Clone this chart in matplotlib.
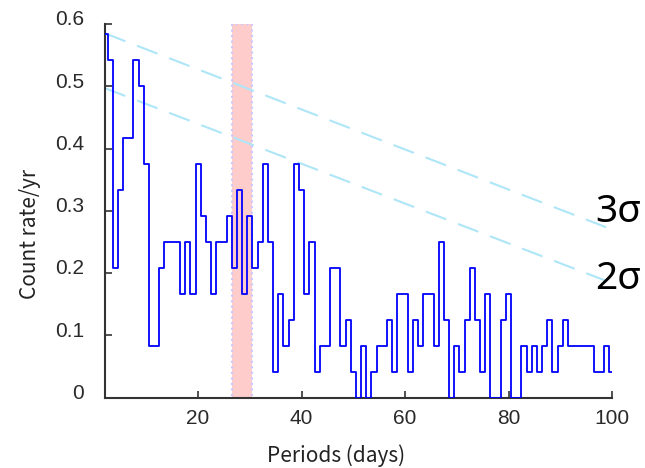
import numpy as np
import matplotlib
matplotlib.use("Agg")
import matplotlib.pyplot as plt
import matplotlib.transforms as mtransforms

# periodogram bins (days) and counts in units of 1/24 per yr
days = list(range(2, 101))
counts = [14, 13, 5, 8, 10, 10, 13, 12, 9, 2, 2, 5, 6, 6, 6, 4, 6, 4, 9, 7, 6, 4,
          6, 6, 7, 5, 8, 4, 7, 5, 6, 9, 6, 1, 4, 2, 3, 9, 8, 4, 6, 1, 2, 2, 5,
          5, 2, 3, 1, 0, 2, 0, 1, 2, 2, 3, 1, 4, 4, 1, 3, 2, 4, 4, 2, 6, 3, 0, 2, 1, 3, 5,
          3, 1, 4, 0, 0, 3, 4, 0, 0, 2, 1, 2, 1, 2, 3, 1, 2, 3, 2, 2, 2, 2, 2, 1, 1, 2, 1]
rate = np.array(counts) / 24.0

# significance levels
sigma_x = [2, 100]
sigma3 = [0.585, 0.270]
sigma2 = [0.497, 0.184]
sigma_labels = ["3σ", "2σ"]

band = (26.5, 30.5)
yticks = [0, 0.1, 0.2, 0.3, 0.4, 0.5, 0.6]
ytick_labels = ["0", "0.1", "0.2", "0.3", "0.4", "0.5", "0.6"]
xticks = [20, 40, 60, 80, 100]

plt.rcParams['font.family'] = ['Noto Sans CJK JP', 'DejaVu Sans']

fig = plt.figure(figsize=(6.45, 4.68), dpi=100)
ax = fig.add_axes([0.1628, 0.1502, 0.786, 0.7985])

ax.axvspan(band[0], band[1], facecolor='#ffcccc', edgecolor='#c8c8ff',
           linestyle=':', linewidth=1.5, zorder=1)
ax.plot(sigma_x, sigma3, color='#aee6f8', lw=1.5, dashes=(10.5, 6), zorder=2)
ax.plot(sigma_x, sigma2, color='#aee6f8', lw=1.5, dashes=(10.5, 6), zorder=2)
ax.step(days, rate, where='mid', color='#0000ff', lw=1.3, zorder=3)

ax.text(96.7, 0.298, sigma_labels[0], fontsize=28, family=['Noto Sans', 'DejaVu Sans'],
        va='center', ha='left')
ax.text(96.7, 0.191, sigma_labels[1], fontsize=28, family=['Noto Sans', 'DejaVu Sans'],
        va='center', ha='left')

ax.set_xlim(2, 100)
ax.set_ylim(0, 0.6)
ax.set_xticks(xticks)
ax.set_yticks(yticks)
ax.set_yticklabels(ytick_labels)
ax.tick_params(direction='in', length=5, width=1.2, colors='#333333',
               labelcolor='#2a2a2a', labelsize=15)
ax.tick_params(axis='x', pad=8)
ax.tick_params(axis='y', pad=15)
for lab in ax.get_xticklabels() + ax.get_yticklabels():
    lab.set_family(['Liberation Sans Narrow', 'Liberation Sans'])
for s in ['top', 'right']:
    ax.spines[s].set_visible(False)
for s in ['left', 'bottom']:
    ax.spines[s].set_color('#333333')
    ax.spines[s].set_linewidth(1.5)

shift = mtransforms.ScaledTranslation(0, 4.5 / 72, fig.dpi_scale_trans)
for lab in ax.get_yticklabels():
    lab.set_transform(lab.get_transform() + shift)

fig.text(30 / 645, 1 - 234 / 468, "Count rate/yr", rotation=90,
         ha='center', va='center', fontsize=15, color='#222222')
fig.text(336 / 645, 1 - 456 / 468, "Periods (days)",
         ha='center', va='center', fontsize=15, color='#222222')

fig.savefig("out.png", dpi=100)
